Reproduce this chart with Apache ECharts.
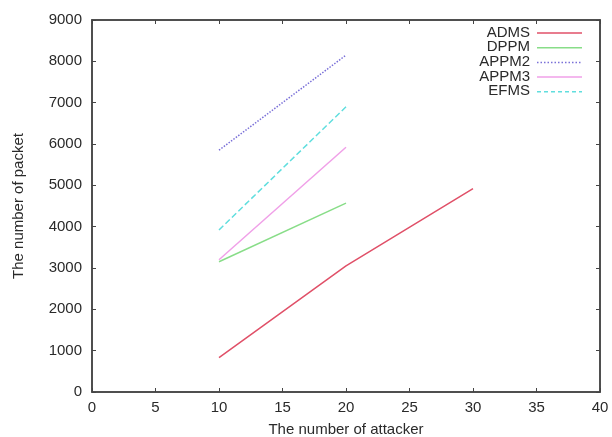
<!DOCTYPE html>
<html><head><meta charset="utf-8">
<script src="https://cdn.jsdelivr.net/npm/echarts@6/dist/echarts.min.js"></script>
<style>html,body{margin:0;padding:0;background:#fff}#c{width:612px;height:437px}</style>
</head><body><div id="c"></div>
<script>
const seriesNames = ['ADMS','DPPM','APPM2','APPM3','EFMS'];
const admsData = [[10, 830],[20, 3050],[30, 4920]];
const dppmData = [[10, 3150],[20, 4570]];
const appm2Data = [[10, 5850],[20, 8150]];
const appm3Data = [[10, 3200],[20, 5920]];
const efmsData = [[10, 3920],[20, 6900]];
const colors = ['#e05068','#88dd88','#7a70d8','#f0a0e8','#60dede'];
const lineTypes = ['solid','solid','dotted','solid','dashed'];
const allData = [admsData, dppmData, appm2Data, appm3Data, efmsData];

const font = 'Liberation Sans, Arial, sans-serif';
const txt = '#2a2a2a';
const chart = echarts.init(document.getElementById('c'));
const mkLine = () => ({show:true, onZero:false, lineStyle:{color:'#444', width:1.5}});
const mkTick = () => ({show:true, inside:true, length:4, lineStyle:{color:'#444', width:1}});
const legendGraphics = [];
seriesNames.forEach((n,i)=>{
  const y = 33 + i*14.7;
  legendGraphics.push({type:'text', right: 82, top: y-8,
    style:{text:n, fill:txt, font:'15px ' + font, textAlign:'right'}});
  legendGraphics.push({type:'line', shape:{x1:537, y1:y, x2:582, y2:y},
    style:{stroke:colors[i], lineWidth:1.5, lineDash: lineTypes[i]==='dotted'?[1.5,2]:(lineTypes[i]==='dashed'?[4,3]:null)}});
});
chart.setOption({
  animation:false,
  backgroundColor:'#fff',
  grid:{left:92, right:12, top:20, bottom:45, outerBoundsMode:'none', containLabel:false,
        show:true, borderColor:'#444', borderWidth:1.5, backgroundColor:'transparent'},
  graphic: legendGraphics,
  xAxis:[{
    show:true, gridIndex:0,
    type:'value', min:0, max:40, interval:5, position:'bottom',
    name:'The number of attacker', nameLocation:'middle', nameGap:30,
    nameTextStyle:{fontFamily:font, fontSize:15, color:txt},
    axisLine:mkLine(), axisTick:mkTick(),
    axisLabel:{fontFamily:font, fontSize:15, color:txt, margin:8},
    splitLine:{show:false}
  },{
    show:true, gridIndex:0,
    type:'value', min:0, max:40, interval:5, position:'top',
    axisLine:mkLine(), axisTick:mkTick(),
    axisLabel:{show:false}, splitLine:{show:false}
  }],
  yAxis:[{
    show:true, gridIndex:0,
    type:'value', min:0, max:9000, interval:1000, position:'left',
    name:'The number of packet', nameLocation:'middle', nameGap:66,
    nameTextStyle:{fontFamily:font, fontSize:15, color:txt},
    axisLine:mkLine(), axisTick:mkTick(),
    axisLabel:{fontFamily:font, fontSize:15, color:txt, margin:10, formatter:v=>String(v)},
    splitLine:{show:false}
  },{
    show:true, gridIndex:0,
    type:'value', min:0, max:9000, interval:1000, position:'right',
    axisLine:mkLine(), axisTick:mkTick(),
    axisLabel:{show:false}, splitLine:{show:false}
  }],
  series: seriesNames.map((n,i)=>({
    name:n, type:'line', data:allData[i], showSymbol:false, symbol:'none',
    xAxisIndex: i===4 ? 1 : 0, yAxisIndex: i===4 ? 1 : 0,
    color:colors[i],
    lineStyle:{color:colors[i], width:1.5, type:lineTypes[i]}
  }))
});
</script></body></html>
